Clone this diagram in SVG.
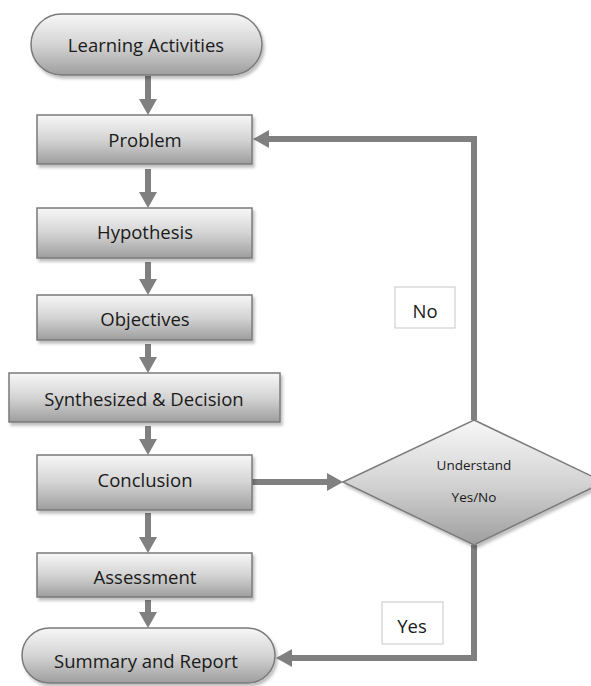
<svg xmlns="http://www.w3.org/2000/svg" width="591" height="686" viewBox="0 0 591 686">
<style>
.node{stroke:#7a7a7a;stroke-width:1.5}
.box{fill:url(#g)}
.lbl{font-family:"Open Sans","DejaVu Sans",sans-serif;font-size:18.5px;fill:#1a1a1a;text-anchor:middle;dominant-baseline:central}
.small{font-size:13.5px}
.conn{stroke:#808080;stroke-width:6;fill:none}
.tag{fill:#fff;stroke:#c8c8c8;stroke-width:1}
</style>
<defs>
<linearGradient id="g" x1="0" y1="0" x2="0" y2="1">
<stop offset="0" stop-color="#f7f7f7"/>
<stop offset="0.5" stop-color="#d4d4d4"/>
<stop offset="1" stop-color="#9e9e9e"/>
</linearGradient>
<filter id="sh" x="-10%" y="-10%" width="130%" height="140%">
<feDropShadow dx="2" dy="3" stdDeviation="1.5" flood-color="#000" flood-opacity="0.25"/>
</filter>
<marker id="ah" markerUnits="userSpaceOnUse" markerWidth="20" markerHeight="20" refX="4" refY="10" orient="auto" viewBox="0 0 20 20">
<path d="M0,1 L16,10 L0,19 Z" fill="#808080"/>
</marker>
</defs>
<g id="connectors">
<line class="conn" x1="148" y1="76" x2="148" y2="103" marker-end="url(#ah)"/>
<line class="conn" x1="148" y1="169" x2="148" y2="196" marker-end="url(#ah)"/>
<line class="conn" x1="148" y1="262" x2="148" y2="283" marker-end="url(#ah)"/>
<line class="conn" x1="148" y1="344" x2="148" y2="361" marker-end="url(#ah)"/>
<line class="conn" x1="148" y1="426" x2="148" y2="443" marker-end="url(#ah)"/>
<line class="conn" x1="148" y1="513" x2="148" y2="541" marker-end="url(#ah)"/>
<line class="conn" x1="148" y1="600" x2="148" y2="616" marker-end="url(#ah)"/>
<line class="conn" x1="252" y1="482" x2="331" y2="482" marker-end="url(#ah)"/>
<polyline class="conn" points="474,420 474,139 265,139" marker-end="url(#ah)"/>
<polyline class="conn" points="474,545 474,658 288,658" marker-end="url(#ah)"/>
</g>
<g id="learning">
<rect class="node box" x="31" y="14" width="231" height="61" rx="30.5" filter="url(#sh)"/>
<text class="lbl" x="146" y="44">Learning Activities</text>
</g>
<g id="problem">
<rect class="node box" x="37" y="115" width="215" height="49" filter="url(#sh)"/>
<text class="lbl" x="145" y="139">Problem</text>
</g>
<g id="hypothesis">
<rect class="node box" x="37" y="208" width="215" height="50" filter="url(#sh)"/>
<text class="lbl" x="145" y="231">Hypothesis</text>
</g>
<g id="objectives">
<rect class="node box" x="37" y="295" width="215" height="45" filter="url(#sh)"/>
<text class="lbl" x="145" y="318">Objectives</text>
</g>
<g id="synthesized">
<rect class="node box" x="9" y="373" width="271" height="49" filter="url(#sh)"/>
<text class="lbl" x="144" y="398">Synthesized &amp; Decision</text>
</g>
<g id="conclusion">
<rect class="node box" x="37" y="455" width="215" height="55" filter="url(#sh)"/>
<text class="lbl" x="145" y="479">Conclusion</text>
</g>
<g id="assessment">
<rect class="node box" x="37" y="553" width="215" height="44" filter="url(#sh)"/>
<text class="lbl" x="145" y="576">Assessment</text>
</g>
<g id="summary">
<rect class="node box" x="22" y="628" width="253" height="55" rx="27.5" filter="url(#sh)"/>
<text class="lbl" x="146" y="660">Summary and Report</text>
</g>
<g id="decision">
<polygon class="node box" points="474,420 604,482 474,545 343,482" filter="url(#sh)"/>
<text class="lbl small" x="474" y="465">Understand</text>
<text class="lbl small" x="474" y="497">Yes/No</text>
</g>
<g id="no">
<rect class="tag" x="395" y="287" width="60" height="41"/>
<text class="lbl" x="425" y="310">No</text>
</g>
<g id="yes">
<rect class="tag" x="382" y="602" width="61" height="42"/>
<text class="lbl" x="412" y="625">Yes</text>
</g>
</svg>
